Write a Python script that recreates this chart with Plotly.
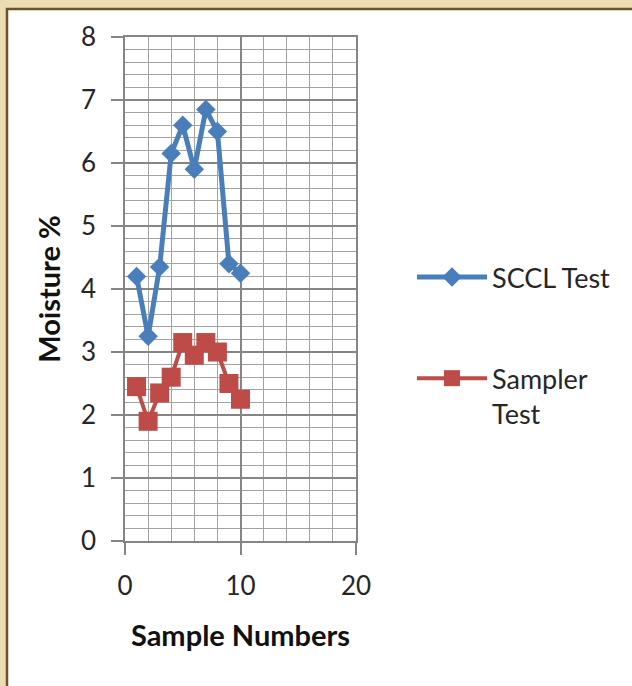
import plotly.graph_objects as go

# Moisture readings per sample
sample_no = [1, 2, 3, 4, 5, 6, 7, 8, 9, 10]
sccl_test = [4.2, 3.25, 4.35, 6.15, 6.6, 5.9, 6.85, 6.5, 4.4, 4.25]
sampler_test = [2.45, 1.9, 2.35, 2.6, 3.15, 2.95, 3.15, 3.0, 2.5, 2.25]

series_names = ["SCCL Test", "Sampler<br>Test"]
x_ticks = [0, 10, 20]
y_ticks = [0, 1, 2, 3, 4, 5, 6, 7, 8]

W, H = 632, 686
FONT = "Lato, Carlito, 'Open Sans', sans-serif"
TXT = "#262626"
MAJOR = "#858585"
MINOR = "#a3a3a3"

fig = go.Figure()
fig.add_trace(go.Scatter(
    x=sample_no, y=sccl_test, name=series_names[0], mode="lines+markers",
    line=dict(color="#4A7EBB", width=5),
    marker=dict(symbol="diamond", size=15, color="#4A7EBB"),
    legendgroup="a",
))
fig.add_trace(go.Scatter(
    x=sample_no, y=sampler_test, name=series_names[1], mode="lines+markers",
    line=dict(color="#BE4B48", width=4),
    marker=dict(symbol="square", size=19, color="#BE4B48"),
    legendgroup="b",
))

# chart panel: white card with a brown rim on a tan page
fig.add_shape(type="rect", xref="paper", yref="paper",
              x0=7 / W, x1=1.02, y0=-0.02, y1=(H - 9) / H,
              fillcolor="white", line=dict(color="#6E5226", width=2.5),
              layer="below")

axis_common = dict(
    ticks="outside", ticklen=12, tickcolor=MAJOR, tickwidth=1.5,
    showgrid=True, gridcolor=MAJOR, gridwidth=1.5,
    showline=True, mirror=True, linecolor=MAJOR, linewidth=1.5,
    zeroline=False, automargin=False,
    tickfont=dict(size=26, color=TXT),
)

fig.update_layout(
    width=W, height=H,
    margin=dict(l=0, r=0, t=0, b=0),
    paper_bgcolor="#EBDCB6",
    plot_bgcolor="white",
    font=dict(family=FONT, color=TXT, size=26),
    legend=dict(
        x=412 / W, xanchor="left", y=(H - 253) / H, yanchor="top",
        bgcolor="rgba(0,0,0,0)", itemwidth=70, tracegroupgap=63,
        font=dict(size=27, color=TXT), valign="top",
        itemclick=False,
    ),
    xaxis=dict(
        axis_common,
        domain=[125 / W, 356 / W], range=[0, 20],
        tickvals=x_ticks, ticklabelstandoff=9,
        minor=dict(dtick=2, showgrid=True, gridcolor=MINOR, gridwidth=1.3),
        title=dict(text="<b>Sample Numbers</b>", standoff=26,
                   font=dict(size=29, color="#111111")),
    ),
    yaxis=dict(
        axis_common,
        domain=[(H - 541) / H, (H - 37) / H], range=[0, 8],
        tickvals=y_ticks, ticklabelstandoff=10,
        minor=dict(dtick=0.2, showgrid=True, gridcolor=MINOR, gridwidth=1.3),
        title=dict(text="<b>Moisture %</b>", standoff=12,
                   font=dict(size=29, color="#111111")),
    ),
)

fig.write_html("out.html")
